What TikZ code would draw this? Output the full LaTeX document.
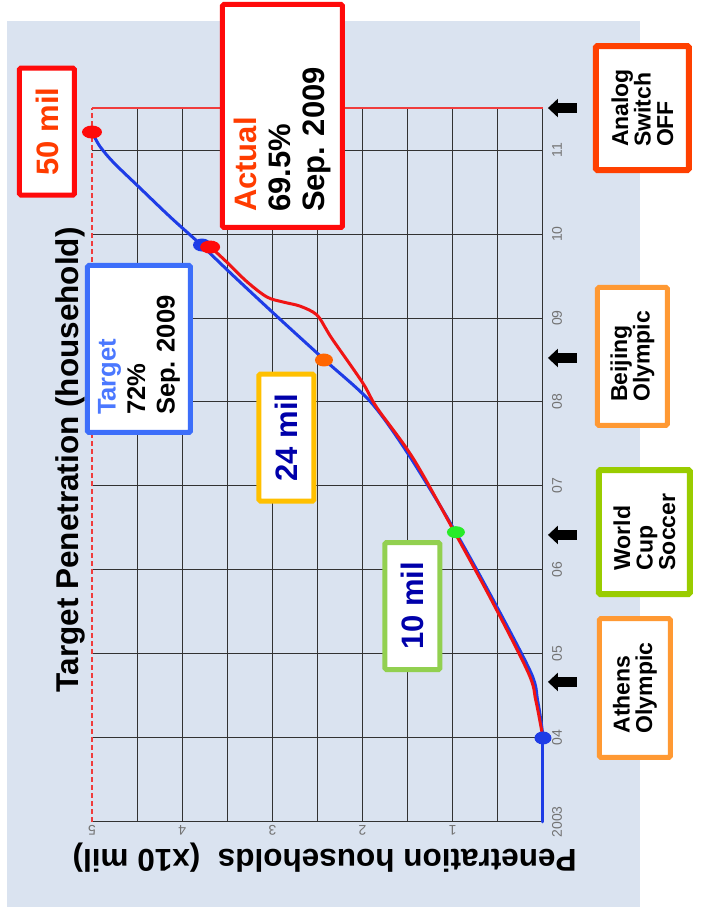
\documentclass[tikz,border=0pt]{standalone}
\usepackage{fontspec}
\setmainfont{Liberation Sans}
\usetikzlibrary{arrows.meta}
\definecolor{panel}{RGB}{218,227,240}
\definecolor{gridgray}{RGB}{50,50,50}
\definecolor{capred}{RGB}{240,60,60}
\definecolor{targetblue}{RGB}{30,60,230}
\definecolor{actualred}{RGB}{240,20,20}
\definecolor{boxred}{RGB}{255,10,10}
\definecolor{textred}{RGB}{255,60,0}
\definecolor{boxblue}{RGB}{60,110,250}
\definecolor{textblue}{RGB}{75,120,255}
\definecolor{boxgold}{RGB}{255,192,0}
\definecolor{milblue}{RGB}{0,0,170}
\definecolor{boxgreen}{RGB}{146,208,80}
\definecolor{boxlime}{RGB}{153,204,0}
\definecolor{boxorange}{RGB}{255,153,51}
\definecolor{boxsignal}{RGB}{255,64,0}
\definecolor{dotorange}{RGB}{255,102,0}
\definecolor{dotgreen}{RGB}{40,235,40}
\tikzset{
  callout/.style={draw, line width=5pt, fill=white, rounded corners=1.5pt, inner sep=0pt, align=left},
  bigtext/.style={font=\bfseries\fontsize{31}{34}\selectfont},
  eventtext/.style={font=\bfseries\fontsize{23}{22.5}\selectfont},
  milbox/.style={callout, bigtext, minimum width=127pt, minimum height=55pt},
  eventbox/.style={callout, eventtext},
  gridline/.style={line width=1pt, gridgray},
  yearlab/.style={font=\fontsize{14}{14}\selectfont, text=black!55, inner sep=0pt},
  vallab/.style={yearlab, rotate=90},
  title/.style={font=\bfseries\fontsize{31.5}{34}\selectfont, inner sep=0pt},
  curve/.style={line width=3pt, line join=round, line cap=round},
  evarrow/.style={line width=10pt, -{Triangle[length=10pt,width=18pt]}}
}
\frenchspacing
\begin{document}
\begin{tikzpicture}[x=84pt, y=90.2pt, rotate=90, transform shape]
\useasboundingbox (-1.048,-1.752) rectangle (9.786,6.020);
\fill[panel] (-1.012,-1.075) rectangle (9.536,5.942);

\foreach \yr in {0,...,8}
  \draw[gridline] (\yr,0) -- (\yr,5);
\foreach \v in {0,0.5,...,4.5}
  \draw[gridline] (0,\v) -- (8.5,\v);
\draw[capred, line width=1.6pt] (8.5,0) -- (8.5,5);
\draw[capred, line width=2pt, dash pattern=on 5pt off 3pt] (0,5) -- (8.5,5);

\foreach \yr/\lab in {0/2003,1/04,2/05,3/06,4/07,5/08,6/09,7/10,8/11}
  \node[yearlab] (yr\yr) at (\yr,-0.155) {\lab};
\foreach \v in {1,...,5}
  \node[vallab] (val\v) at (-0.095,\v) {\v};

\node[title] (chartitle) at (4.31,5.244) {Target Penetration (household)};
\node[title, rotate=90] (axtitle) at (-0.42,2.42) {Penetration households\ \ (x10 mil)};

\draw[curve, targetblue] (0,0) -- (1,0);
\draw[curve, targetblue] plot[smooth, tension=0.5] coordinates {(1,0) (1.15,0.015) (1.45,0.06) (1.77,0.13) (2.64,0.55) (3.51,1.0) (4.39,1.5) (5.0,1.91) (5.5,2.42) (6.0,2.93) (6.5,3.43) (6.87,3.79) (7.2,4.13) (7.56,4.48) (7.85,4.76) (8.04,4.91) (8.21,5.0)};
\draw[curve, actualred] plot[smooth, tension=0.55] coordinates {(1,0) (1.15,0.025) (1.45,0.08) (1.77,0.16) (2.64,0.57) (3.45,0.98) (4.33,1.44) (4.93,1.84) (5.23,2.0) (5.74,2.33) (5.86,2.40) (6.04,2.51) (6.14,2.69) (6.19,2.88) (6.25,3.06) (6.43,3.28) (6.66,3.50) (6.85,3.69)};

\fill[targetblue] (1,0) ellipse [x radius=6.5pt, y radius=8.5pt];
\fill[dotgreen] (3.45,0.965) ellipse [x radius=6pt, y radius=9pt];
\fill[dotorange] (5.5,2.428) ellipse [x radius=6.5pt, y radius=9pt];
\fill[targetblue] (6.869,3.78) ellipse [x radius=6.5pt, y radius=9pt];
\fill[boxred] (6.845,3.69) ellipse [x radius=6.5pt, y radius=10pt];
\fill[boxred] (8.214,5.0) ellipse [x radius=6.5pt, y radius=10pt];

\node[milbox, draw=boxred, text=textred] (fifty) at (8.220,5.499) {50 mil};
\node[callout, bigtext, draw=boxred, text width=192pt, inner xsep=15.5pt, minimum height=120pt] (actual) at (8.405,2.888) {\textcolor{textred}{Actual}\\69.5\%\\Sep. 2009};
\node[callout, draw=boxblue, font=\bfseries\fontsize{25.6}{29.5}\selectfont, text width=132pt, inner xsep=17.5pt, minimum height=103pt] (target) at (5.631,4.479) {\textcolor{textblue}{Target}\\72\%\\Sep. 2009};
\node[milbox, draw=boxgold, text=milblue] (twentyfour) at (4.577,2.844) {24 mil};
\node[milbox, draw=boxgreen, text=milblue] (ten) at (2.571,1.447) {10 mil};

\node[eventbox, draw=boxsignal, line width=6pt, minimum width=124pt, minimum height=93pt] (analog) at (8.5,-1.103) {Analog\\Switch\\OFF};
\node[eventbox, draw=boxorange, minimum width=138pt, minimum height=70pt] (beijing) at (5.542,-0.992) {Beijing\\Olympic};
\node[eventbox, draw=boxlime, line width=6pt, minimum width=124pt, minimum height=91pt] (worldcup) at (3.452,-1.125) {World\\Cup\\Soccer};
\node[eventbox, draw=boxorange, minimum width=139pt, minimum height=71pt] (athens) at (1.595,-1.02) {Athens\\Olympic};

\coordinate (analogtail) at (8.5,-0.377);
\coordinate (analogtip) at (8.5,-0.055);
\coordinate (beijingtail) at (5.524,-0.377);
\coordinate (beijingtip) at (5.524,-0.055);
\coordinate (worldcuptail) at (3.417,-0.377);
\coordinate (worldcuptip) at (3.417,-0.055);
\coordinate (athenstail) at (1.667,-0.377);
\coordinate (athenstip) at (1.667,-0.055);
\draw[evarrow] (analogtail) -- (analogtip);
\draw[evarrow] (beijingtail) -- (beijingtip);
\draw[evarrow] (worldcuptail) -- (worldcuptip);
\draw[evarrow] (athenstail) -- (athenstip);
\end{tikzpicture}
\end{document}
